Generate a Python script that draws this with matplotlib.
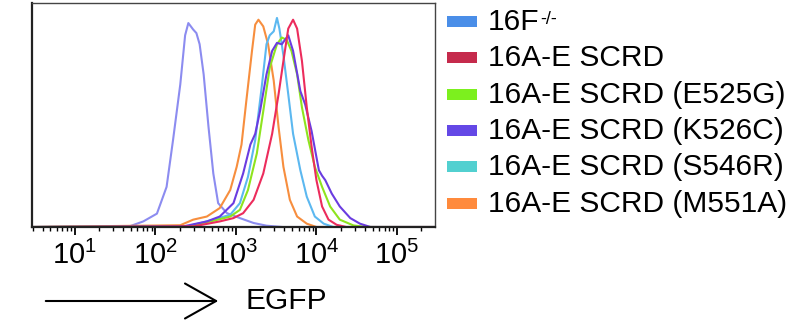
import matplotlib
matplotlib.use("Agg")
import matplotlib.pyplot as plt
from matplotlib.patches import Rectangle, FancyArrowPatch
from matplotlib.ticker import FixedLocator, FixedFormatter, LogLocator, NullFormatter
import numpy as np

plt.rcParams["font.family"] = ["Liberation Sans", "DejaVu Sans"]
plt.rcParams["mathtext.fontset"] = "custom"
plt.rcParams["mathtext.rm"] = "Liberation Sans"

# histogram outlines, x = log10(EGFP), y = % of max axis height
KO_X = [0.47, 1.68, 1.85, 2.02, 2.14, 2.22, 2.31, 2.37, 2.41, 2.47, 2.51, 2.55, 2.60, 2.66, 2.72, 2.78, 2.89, 3.05, 3.22, 3.38, 3.58, 5.47]
KO_Y = [0, 0.3, 2.5, 6.0, 18, 39, 64, 86, 91.5, 88.6, 87, 82, 68.5, 45, 24, 10.7, 6.2, 4.0, 1.8, 0.6, 0, 0]
WT_X = [0.47, 2.48, 2.80, 2.97, 3.09, 3.22, 3.34, 3.45, 3.53, 3.59, 3.65, 3.71, 3.76, 3.82, 3.88, 3.94, 4.00, 4.07, 4.15, 4.25, 4.37, 5.47]
WT_Y = [0, 0.3, 2.5, 4.0, 6.2, 12.2, 24, 41.8, 59.6, 74.5, 89, 93, 89, 74.5, 53.7, 36, 21, 9.2, 3.3, 1.0, 0, 0]
E525G_X = [0.47, 2.40, 2.72, 2.93, 3.05, 3.15, 3.26, 3.34, 3.42, 3.51, 3.57, 3.63, 3.69, 3.76, 3.82, 3.90, 3.98, 4.07, 4.17, 4.29, 4.46, 4.62, 5.47]
E525G_Y = [0, 0.3, 2.8, 4.7, 7.7, 16.6, 33, 52, 71.5, 82, 85, 84, 79, 68.5, 53.7, 39, 27, 18, 9.2, 3.3, 0.7, 0, 0]
K526C_X = [0.47, 2.35, 2.64, 2.80, 2.97, 3.09, 3.18, 3.24, 3.30, 3.38, 3.45, 3.51, 3.57, 3.65, 3.71, 3.80, 3.86, 3.94, 4.03, 4.07, 4.11, 4.19, 4.29, 4.42, 4.54, 4.67, 5.47]
K526C_Y = [0, 0.3, 2.5, 4.7, 10.7, 24, 37, 41.8, 52, 68.5, 79, 82.6, 82, 86, 79, 61, 55, 43, 25.5, 23, 21, 15, 9.2, 4.0, 1.5, 0, 0]
S546R_X = [0.47, 2.40, 2.72, 2.93, 3.05, 3.15, 3.24, 3.32, 3.38, 3.42, 3.47, 3.51, 3.54, 3.59, 3.65, 3.71, 3.80, 3.88, 3.98, 4.09, 4.21, 5.47]
S546R_Y = [0, 0.3, 3.3, 5.5, 10.7, 22.5, 39, 62.6, 82, 86, 87.8, 93.8, 89, 77, 59.6, 41.8, 25.5, 13.6, 4.7, 1.5, 0, 0]
M551A_X = [0.47, 2.31, 2.47, 2.64, 2.80, 2.93, 3.01, 3.07, 3.13, 3.20, 3.24, 3.28, 3.34, 3.40, 3.47, 3.53, 3.59, 3.67, 3.76, 3.88, 4.00, 5.47]
M551A_Y = [0, 0.8, 3.3, 4.7, 8.5, 16.6, 27, 37, 56.7, 79, 90.8, 93, 90, 82, 65.6, 44.8, 27, 12.2, 4.7, 1.5, 0, 0]

LABELS = ["16F", "16A-E SCRD", "16A-E SCRD (E525G)", "16A-E SCRD (K526C)",
          "16A-E SCRD (S546R)", "16A-E SCRD (M551A)"]
SUPERSCRIPTS = ["-/-", "", "", "", "", ""]
LINE_COLORS = ["#8c8cf0", "#ec2c5c", "#8ee41e", "#6a3ce0", "#5cb8f0", "#f78e3e"]
PATCH_COLORS = ["#4a8ee8", "#c52a4c", "#7cf01e", "#6448e6", "#52d0d0", "#ff8a3c"]
CURVES = [(KO_X, KO_Y), (WT_X, WT_Y), (E525G_X, E525G_Y), (K526C_X, K526C_Y),
          (S546R_X, S546R_Y), (M551A_X, M551A_Y)]
DECADES = [1, 2, 3, 4, 5]

fig = plt.figure(figsize=(7.93, 3.22), dpi=100)
ax = fig.add_axes([0.0404, 0.295, 0.508, 0.6957])

# draw order: lavender first, red on top
for i in [0, 5, 4, 2, 3, 1]:
    xs, ys = CURVES[i]
    ax.plot(10 ** np.array(xs), ys, color=LINE_COLORS[i], lw=1.5, solid_joinstyle="round")

ax.set_xscale("log")
ax.set_xlim(10 ** 0.47, 10 ** 5.47)
ax.set_ylim(0, 100.5)
ax.set_yticks([])
ax.xaxis.set_major_locator(FixedLocator([10.0 ** d for d in DECADES]))
ax.xaxis.set_major_formatter(FixedFormatter([r"$\mathregular{10^{%d}}$" % d for d in DECADES]))
ax.xaxis.set_minor_locator(LogLocator(base=10, subs=np.arange(2, 10), numticks=20))
ax.xaxis.set_minor_formatter(NullFormatter())
ax.tick_params(axis="x", which="major", length=6, width=1.3, labelsize=21, pad=4, direction="out")
ax.tick_params(axis="x", which="minor", length=3, width=1.0, direction="out")
for s in ax.spines.values():
    s.set_color("#444444")
    s.set_linewidth(1.0)
for side in ("left", "bottom"):
    ax.spines[side].set_linewidth(1.6)
    ax.spines[side].set_color("#222222")

# legend drawn by hand to match the swatch layout
for k, (lab, sup, c) in enumerate(zip(LABELS, SUPERSCRIPTS, PATCH_COLORS)):
    yc = 1 - (22 + 36.3 * k) / 322
    fig.patches.append(Rectangle((447 / 793, yc - 5 / 322), 30 / 793, 11 / 322,
                                 transform=fig.transFigure, color=c, lw=0))
    t = fig.text(488 / 793, yc, lab, fontsize=21.5, va="center", ha="left")
    if sup:
        ax.annotate(sup, xy=(1, 1), xycoords=t, xytext=(0.5, -2), textcoords="offset points",
                    fontsize=13, va="top", ha="left", annotation_clip=False)

# axis label with arrow
fig.add_artist(FancyArrowPatch(
    (43 / 793, 1 - 301 / 322), (221 / 793, 1 - 301 / 322), transform=fig.transFigure,
    arrowstyle="->,head_length=1.6,head_width=0.9", lw=1.5, color="black", mutation_scale=14))
fig.text(245 / 793, 1 - 301 / 322, "EGFP", fontsize=21.5, va="center", ha="left")

fig.savefig("out.png", dpi=100)
